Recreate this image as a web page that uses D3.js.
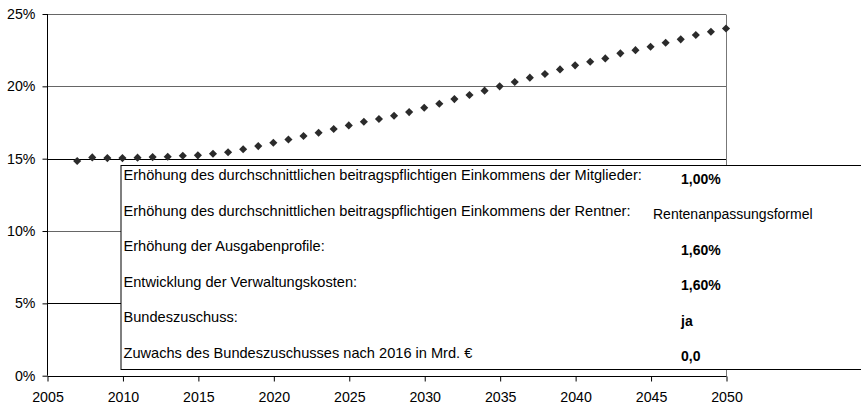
<!DOCTYPE html>
<html>
<head>
<meta charset="utf-8">
<script src="https://cdn.jsdelivr.net/npm/d3@7"></script>
<style>
  html, body { margin: 0; padding: 0; background: #fff; }
  svg { display: block; font-family: "Liberation Sans", Arial, sans-serif; }
</style>
</head>
<body>
<svg id="chart" width="861" height="406"></svg>
<script>
// ---- data ----
const years = d3.range(2007, 2051);
const rates = [14.84, 15.09, 15.04, 15.04, 15.07, 15.11, 15.13, 15.20, 15.23, 15.34,
               15.44, 15.65, 15.87, 16.10, 16.33, 16.57, 16.79, 17.05, 17.30, 17.55,
               17.74, 17.97, 18.22, 18.52, 18.80, 19.12, 19.40, 19.70, 20.00, 20.30,
               20.60, 20.85, 21.17, 21.45, 21.70, 21.93, 22.28, 22.50, 22.74, 23.01,
               23.25, 23.55, 23.77, 24.00];
const yTicks = [0, 5, 10, 15, 20, 25];
const xTicks = [2005, 2010, 2015, 2020, 2025, 2030, 2035, 2040, 2045, 2050];
const tableLabels = [
  "Erhöhung des durchschnittlichen beitragspflichtigen Einkommens der Mitglieder:",
  "Erhöhung des durchschnittlichen beitragspflichtigen Einkommens der Rentner:",
  "Erhöhung der Ausgabenprofile:",
  "Entwicklung der Verwaltungskosten:",
  "Bundeszuschuss:",
  "Zuwachs des Bundeszuschusses nach 2016 in Mrd. €"
];
const tableValues = ["1,00%", "Rentenanpassungsformel", "1,60%", "1,60%", "ja", "0,0"];
const tableBold = [true, false, true, true, true, true];

// ---- layout ----
const svg = d3.select("#chart");
const x = d3.scaleLinear().domain([2005, 2050]).range([47, 726]);
const y = d3.scaleLinear().domain([0, 25]).range([375.7, 14]);

// gridlines
svg.append("g").selectAll("line").data(yTicks.filter(d => d > 0)).join("line")
  .attr("x1", x(2005)).attr("x2", x(2050))
  .attr("y1", d => Math.round(y(d)) + 0.5).attr("y2", d => Math.round(y(d)) + 0.5)
  .attr("stroke", d => (d === 15 || d === 5) ? "#000" : "#666")
  .attr("stroke-width", 1);

// right border of plot
svg.append("line")
  .attr("x1", x(2050) + 0.5).attr("x2", x(2050) + 0.5)
  .attr("y1", Math.round(y(25)) + 0.5).attr("y2", Math.round(y(0)) + 0.5)
  .attr("stroke", "#777");

// y axis
const yAxis = d3.axisLeft(y).tickValues(yTicks).tickFormat(d => d + "%").tickSize(5).tickPadding(7);
const gy = svg.append("g").attr("transform", "translate(47.5,0)").call(yAxis);
gy.select(".domain").attr("stroke", "#000").attr("d", `M0,${y(25)}V${y(0)}`);
gy.selectAll(".tick line").attr("stroke", "#000");
gy.selectAll(".tick text").attr("font-size", 14.2).attr("font-family", "Liberation Sans, Arial, sans-serif").attr("fill", "#000");

// x axis
const xAxis = d3.axisBottom(x).tickValues(xTicks).tickFormat(d3.format("d")).tickSize(5).tickPadding(10);
const gx = svg.append("g").attr("transform", `translate(0.5,${Math.round(y(0)) + 0.5})`).call(xAxis);
gx.select(".domain").attr("stroke", "#000").attr("d", `M${x(2005)},0H${x(2050)}`);
gx.selectAll(".tick line").attr("stroke", "#000");
gx.selectAll(".tick text").attr("font-size", 14.2).attr("font-family", "Liberation Sans, Arial, sans-serif").attr("fill", "#000");

// markers
const diamond = d3.symbol().type(d3.symbolDiamond2).size(42);
svg.append("g").selectAll("path").data(years.map((yr, i) => [yr, rates[i]])).join("path")
  .attr("d", diamond)
  .attr("transform", d => `translate(${x(d[0])},${y(d[1])})`)
  .attr("fill", "#2b2b2b");

// table box
const tbl = svg.append("g");
tbl.append("rect")
  .attr("x", 121).attr("y", 165.5).attr("width", 800).attr("height", 204)
  .attr("fill", "#fff").attr("stroke", "#000").attr("stroke-width", 1);

const rowStep = 35.5;
tbl.selectAll("text.lab").data(tableLabels).join("text")
  .attr("class", "lab")
  .attr("x", 123.5).attr("y", (d, i) => 180 + i * rowStep)
  .attr("font-size", 14.6).attr("fill", "#000")
  .text(d => d);

tbl.selectAll("text.val").data(tableValues).join("text")
  .attr("class", "val")
  .attr("x", (d, i) => tableBold[i] ? 681 : 653)
  .attr("y", (d, i) => 183.5 + i * rowStep)
  .attr("font-size", 14)
  .attr("font-weight", (d, i) => tableBold[i] ? "bold" : "normal")
  .attr("fill", "#000")
  .text(d => d);
</script>
</body>
</html>
